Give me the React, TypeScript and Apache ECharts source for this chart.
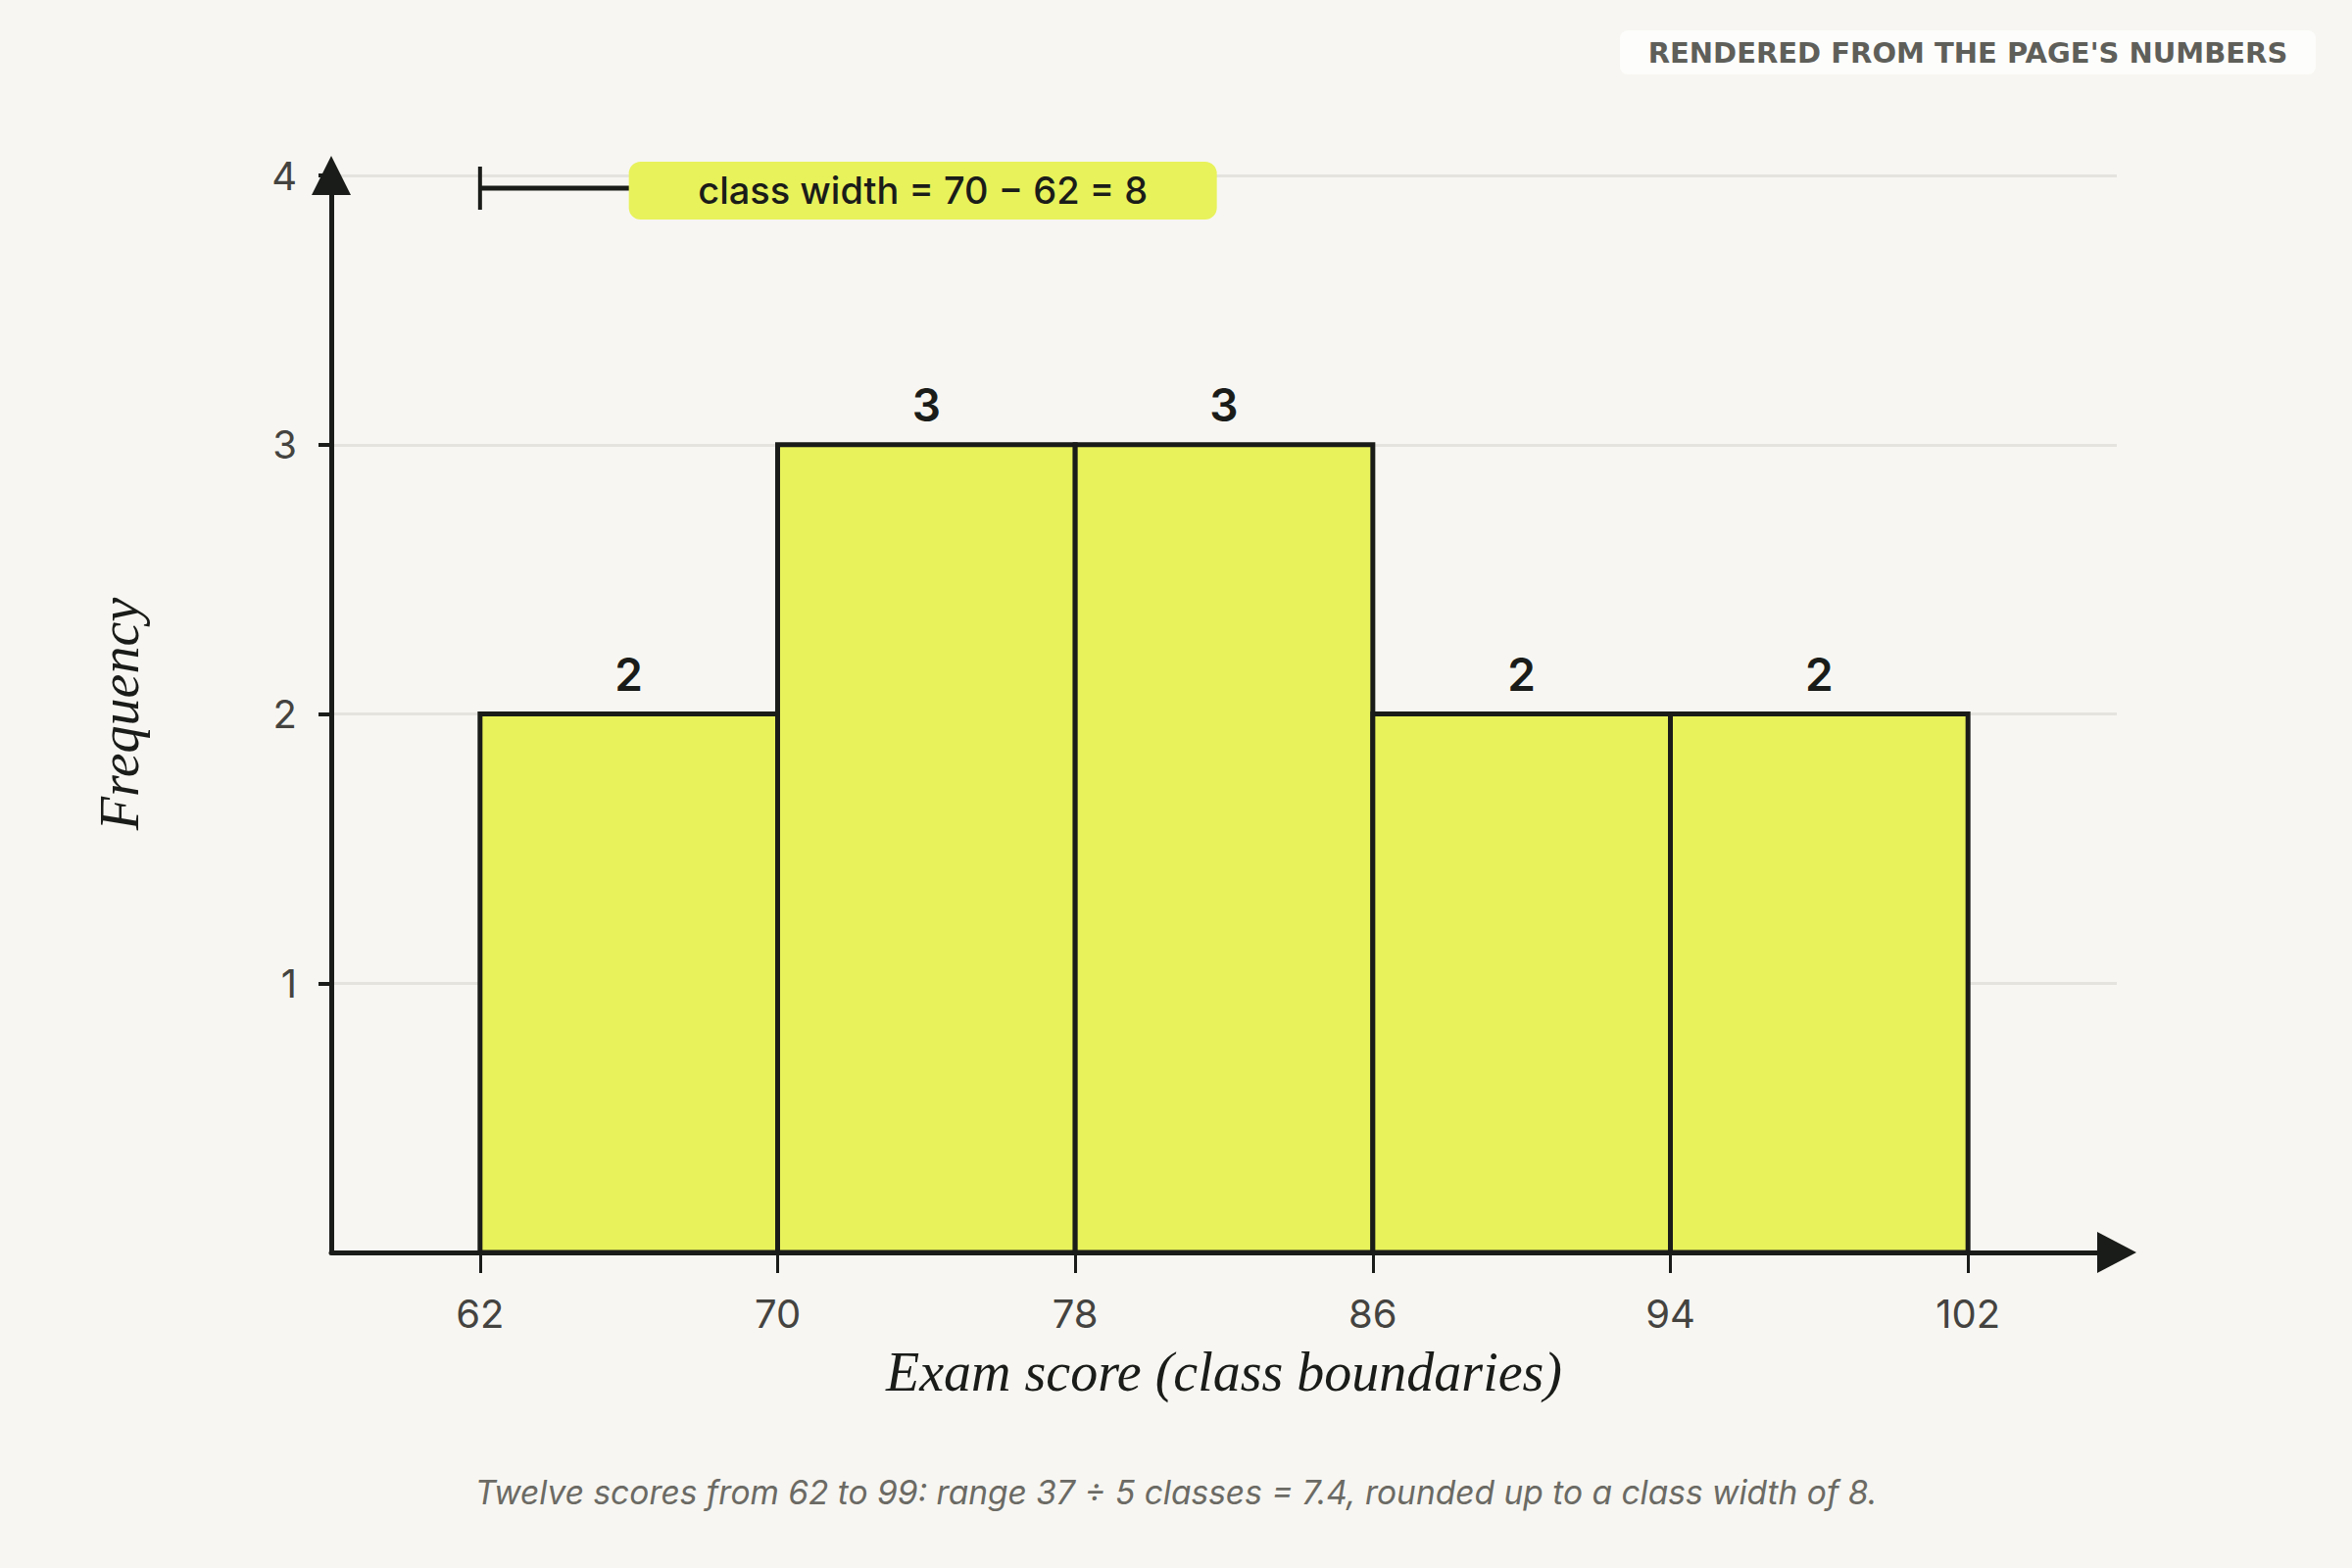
import React, { useRef, useEffect } from 'react';
import * as echarts from 'echarts';

// class boundaries and frequencies
const CLASS_STARTS = [62, 70, 78, 86, 94];
const CLASS_ENDS = [70, 78, 86, 94, 102];
const FREQUENCIES = [2, 3, 3, 2, 2];
const X_TICKS = [62, 70, 78, 86, 94, 102];
const Y_TICKS = [1, 2, 3, 4];

const WIDTH_NOTE = 'class width = 70 − 62 = 8';
const CAPTION = 'Twelve scores from 62 to 99: range 37 ÷ 5 classes = 7.4, rounded up to a class width of 8.';
const BADGE = "RENDERED FROM THE PAGE'S NUMBERS";

const INK = '#1a1c19';
const BAR_FILL = '#e8f25b';
const BG = '#f7f6f2';
const SANS = 'Inter, "Noto Sans", sans-serif';
const SERIF = '"Liberation Serif", "DejaVu Serif", serif';

export default function App() {
  const chartRef = useRef<HTMLDivElement>(null);

  useEffect(() => {
    if (!chartRef.current) return;
    document.body.style.margin = '0';
    const chart = echarts.init(chartRef.current, null, { renderer: 'svg' });

    const bins = CLASS_STARTS.map((s, i) => [s, CLASS_ENDS[i], FREQUENCIES[i]]);

    const option: echarts.EChartsOption = {
      animation: false,
      backgroundColor: BG,
      grid: { left: 338, right: 240, top: 179, bottom: 322, containLabel: false },
      xAxis: {
        type: 'value',
        min: 58,
        max: 106,
        name: 'Exam score (class boundaries)',
        nameLocation: 'middle',
        nameGap: 122,
        nameTextStyle: {
          fontFamily: SERIF,
          fontStyle: 'italic',
          fontSize: 56,
          color: INK,
          verticalAlign: 'middle',
        },
        axisLine: {
          onZero: false,
          symbol: ['none', 'triangle'],
          symbolSize: [42, 40],
          lineStyle: { color: INK, width: 5 },
        },
        axisTick: { show: true, customValues: X_TICKS, length: 21, lineStyle: { color: INK, width: 3 } },
        axisLabel: { customValues: X_TICKS, margin: 42, fontFamily: SANS, fontSize: 40, color: '#444340' },
        splitLine: { show: false },
      },
      yAxis: {
        type: 'value',
        min: 0,
        max: 4,
        interval: 1,
        name: 'Frequency',
        nameLocation: 'middle',
        nameGap: 216,
        nameRotate: 90,
        nameTextStyle: {
          fontFamily: SERIF,
          fontStyle: 'italic',
          fontSize: 56,
          color: INK,
          verticalAlign: 'middle',
        },
        axisLine: {
          show: true,
          symbol: ['none', 'triangle'],
          symbolSize: [40, 40],
          lineStyle: { color: INK, width: 5 },
        },
        axisTick: { show: true, customValues: Y_TICKS, length: 13, lineStyle: { color: INK, width: 4 } },
        axisLabel: { customValues: Y_TICKS, margin: 35, fontFamily: SANS, fontSize: 40, color: '#444340' },
        splitLine: { show: true, lineStyle: { color: '#e4e3de', width: 3 } },
      },
      series: [
        {
          type: 'custom',
          data: bins,
          encode: { x: [0, 1], y: 2 },
          z: 3,
          renderItem: (params: any, api: any) => {
            const topLeft = api.coord([api.value(0), api.value(2)]);
            const bottomRight = api.coord([api.value(1), 0]);
            return {
              type: 'group',
              children: [
                {
                  type: 'rect',
                  shape: {
                    x: topLeft[0],
                    y: topLeft[1],
                    width: bottomRight[0] - topLeft[0],
                    height: bottomRight[1] - topLeft[1],
                  },
                  style: { fill: BAR_FILL, stroke: INK, lineWidth: 5 },
                },
                {
                  type: 'text',
                  x: (topLeft[0] + bottomRight[0]) / 2,
                  y: topLeft[1] - 41,
                  style: {
                    text: String(api.value(2)),
                    fontFamily: SANS,
                    fontWeight: 600,
                    fontSize: 46,
                    fill: INK,
                    align: 'center',
                    verticalAlign: 'middle',
                  },
                },
              ],
            };
          },
        },
        {
          // bracket showing one class width, with its note
          type: 'custom',
          data: [[CLASS_STARTS[0], CLASS_ENDS[0], 4]],
          encode: { x: [0, 1], y: 2 },
          z: 4,
          renderItem: (params: any, api: any) => {
            const start = api.coord([api.value(0), api.value(2)]);
            const mid = api.coord([(api.value(0) + api.value(1)) / 2, api.value(2)]);
            const end = api.coord([api.value(1), api.value(2)]);
            const y = start[1] + 13;
            const boxW = 600;
            const boxH = 59;
            return {
              type: 'group',
              children: [
                {
                  type: 'line',
                  shape: { x1: start[0], y1: y - 22, x2: start[0], y2: y + 22 },
                  style: { stroke: INK, lineWidth: 4 },
                },
                {
                  type: 'line',
                  shape: { x1: start[0], y1: y, x2: end[0], y2: y },
                  style: { stroke: INK, lineWidth: 5 },
                },
                {
                  type: 'rect',
                  shape: { x: mid[0], y: y - 27, width: boxW, height: boxH, r: 12 },
                  style: { fill: BAR_FILL },
                },
                {
                  type: 'text',
                  x: mid[0] + boxW / 2,
                  y: y + 2,
                  style: {
                    text: WIDTH_NOTE,
                    fontFamily: SANS,
                    fontWeight: 500,
                    fontSize: 38,
                    fill: INK,
                    align: 'center',
                    verticalAlign: 'middle',
                  },
                },
              ],
            };
          },
        },
      ],
      graphic: [
        {
          type: 'group',
          right: 37,
          top: 31,
          children: [
            {
              type: 'rect',
              shape: { x: 0, y: 0, width: 710, height: 45, r: 8 },
              style: { fill: '#fdfdfb' },
            },
            {
              type: 'text',
              x: 355,
              y: 23,
              style: {
                text: BADGE,
                fontFamily: '"DejaVu Sans", sans-serif',
                fontWeight: 'bold',
                fontSize: 29,
                fill: '#5f5f5a',
                align: 'center',
                verticalAlign: 'middle',
              },
            },
          ],
        },
        {
          type: 'text',
          left: 'center',
          top: 1506,
          style: {
            text: CAPTION,
            fontFamily: SANS,
            fontStyle: 'italic',
            fontSize: 33.5,
            fill: '#6b6a64',
          },
        },
      ],
    };

    chart.setOption(option);
    return () => chart.dispose();
  }, []);

  return <div ref={chartRef} style={{ width: 2400, height: 1600 }} />;
}
